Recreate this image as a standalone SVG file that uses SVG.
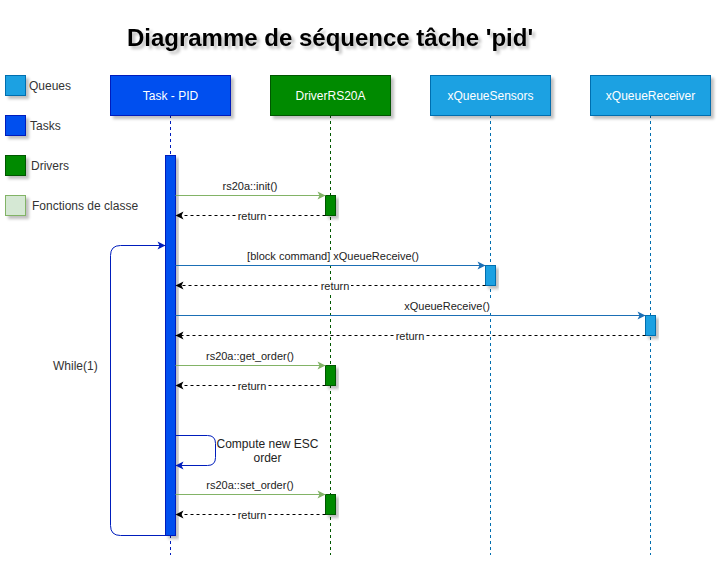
<svg xmlns="http://www.w3.org/2000/svg" width="727" height="572" viewBox="0 0 727 572">
<defs>
<filter id="sh" x="-20%" y="-20%" width="150%" height="150%">
<feGaussianBlur in="SourceAlpha" stdDeviation="1.5"/>
<feOffset dx="3" dy="3" result="b"/>
<feComponentTransfer><feFuncA type="linear" slope="0.25"/></feComponentTransfer>
<feMerge><feMergeNode/><feMergeNode in="SourceGraphic"/></feMerge>
</filter>
<marker id="aG" markerWidth="10" markerHeight="10" refX="9" refY="5" orient="auto" markerUnits="userSpaceOnUse"><path d="M1,1 L9,5 L1,9 L3,5 Z" fill="#82b366"/></marker>
<marker id="aB" markerWidth="10" markerHeight="10" refX="9" refY="5" orient="auto" markerUnits="userSpaceOnUse"><path d="M1,1 L9,5 L1,9 L3,5 Z" fill="#1b6fb5"/></marker>
<marker id="aD" markerWidth="10" markerHeight="10" refX="9" refY="5" orient="auto" markerUnits="userSpaceOnUse"><path d="M1,1 L9,5 L1,9 L3,5 Z" fill="#001dbc"/></marker>
<marker id="aK" markerWidth="10" markerHeight="10" refX="9" refY="5" orient="auto" markerUnits="userSpaceOnUse"><path d="M1,1 L9,5 L1,9 L3,5 Z" fill="#000"/></marker>
</defs>
<style>
text{font-family:"Liberation Sans",Arial,sans-serif;}
.t{font-size:24px;font-weight:bold;fill:#000;}
.h{font-size:12px;fill:#fff;text-anchor:middle;}
.l{font-size:12px;fill:#333;}
.m{font-size:11px;fill:#222;text-anchor:middle;}
.bg{fill:#fff;}
.life{fill:none;stroke-width:1;stroke-dasharray:3 3;}
.q{fill:#1ba1e2;stroke:#006eaf;}
.tk{fill:#0050ef;stroke:#001dbc;}
.dr{fill:#008a00;stroke:#005700;}
.fc{fill:#d5e8d4;stroke:#82b366;}
.call{fill:none;stroke-width:1;}
.ret{fill:none;stroke:#000;stroke-dasharray:3 3;marker-end:url(#aK);}
</style>
<rect width="727" height="572" fill="#fff"/>
<text class="t" x="330" y="46" text-anchor="middle" filter="url(#sh)">Diagramme de séquence tâche 'pid'</text>

<g id="legend">
<rect class="q" x="5.5" y="75.5" width="20" height="20" filter="url(#sh)"/>
<text class="l" x="29" y="90">Queues</text>
<rect class="tk" x="5.5" y="115.5" width="20" height="20" filter="url(#sh)"/>
<text class="l" x="30" y="130">Tasks</text>
<rect class="dr" x="5.5" y="155.5" width="20" height="20" filter="url(#sh)"/>
<text class="l" x="31" y="170">Drivers</text>
<rect class="fc" x="5.5" y="195.5" width="20" height="20" filter="url(#sh)"/>
<text class="l" x="32" y="210">Fonctions de classe</text>
</g>

<g id="task-pid">
<line class="life" x1="170.5" y1="115" x2="170.5" y2="555" stroke="#001dbc"/>
<rect class="tk" x="110.5" y="75.5" width="120" height="40" filter="url(#sh)"/>
<text class="h" x="170.5" y="100">Task - PID</text>
</g>
<g id="driver-rs20a">
<line class="life" x1="330.5" y1="115" x2="330.5" y2="555" stroke="#005700"/>
<rect class="dr" x="270.5" y="75.5" width="120" height="40" filter="url(#sh)"/>
<text class="h" x="330.5" y="100">DriverRS20A</text>
</g>
<g id="xqueue-sensors">
<line class="life" x1="490.5" y1="115" x2="490.5" y2="555" stroke="#006eaf"/>
<rect class="q" x="430.5" y="75.5" width="120" height="40" filter="url(#sh)"/>
<text class="h" x="490.5" y="100">xQueueSensors</text>
</g>
<g id="xqueue-receiver">
<line class="life" x1="650.5" y1="115" x2="650.5" y2="555" stroke="#006eaf"/>
<rect class="q" x="590.5" y="75.5" width="120" height="40" filter="url(#sh)"/>
<text class="h" x="650.5" y="100">xQueueReceiver</text>
</g>

<g id="activations">
<rect class="tk" x="165.5" y="155.5" width="10" height="380" filter="url(#sh)"/>
<rect class="dr" x="325.5" y="195.5" width="10" height="20" filter="url(#sh)"/>
<rect class="q" x="485.5" y="265.5" width="10" height="20" filter="url(#sh)"/>
<rect class="q" x="645.5" y="315.5" width="10" height="20" filter="url(#sh)"/>
<rect class="dr" x="325.5" y="365.5" width="10" height="20" filter="url(#sh)"/>
<rect class="dr" x="325.5" y="494.5" width="10" height="20" filter="url(#sh)"/>
</g>

<g id="connectors">
<!-- init -->
<line class="call" x1="175.5" y1="195.5" x2="325.5" y2="195.5" stroke="#82b366" marker-end="url(#aG)"/>
<rect class="bg" x="220" y="180" width="60" height="12"/>
<text class="m" x="250" y="190">rs20a::init()</text>
<line class="ret" x1="325.5" y1="215.5" x2="175.5" y2="215.5"/>
<rect class="bg" x="236" y="210" width="32" height="12"/>
<text class="m" x="252" y="220">return</text>

<!-- block command -->
<line class="call" x1="175.5" y1="265.5" x2="485.5" y2="265.5" stroke="#1b6fb5" marker-end="url(#aB)"/>
<rect class="bg" x="243" y="250" width="180" height="12"/>
<text class="m" x="333" y="260">[block command] xQueueReceive()</text>
<line class="ret" x1="485.5" y1="285.5" x2="175.5" y2="285.5"/>
<rect class="bg" x="319" y="280" width="32" height="12"/>
<text class="m" x="335" y="290">return</text>

<!-- xQueueReceive -->
<line class="call" x1="175.5" y1="315.5" x2="645.5" y2="315.5" stroke="#1b6fb5" marker-end="url(#aB)"/>
<rect class="bg" x="402" y="300" width="90" height="12"/>
<text class="m" x="447" y="310">xQueueReceive()</text>
<line class="ret" x1="645.5" y1="335.5" x2="175.5" y2="335.5"/>
<rect class="bg" x="394" y="330" width="32" height="12"/>
<text class="m" x="410" y="340">return</text>

<!-- get_order -->
<line class="call" x1="175.5" y1="365.5" x2="325.5" y2="365.5" stroke="#82b366" marker-end="url(#aG)"/>
<rect class="bg" x="205" y="350" width="92" height="12"/>
<text class="m" x="250" y="360">rs20a::get_order()</text>
<line class="ret" x1="325.5" y1="385.5" x2="175.5" y2="385.5"/>
<rect class="bg" x="236" y="380" width="32" height="12"/>
<text class="m" x="252" y="390">return</text>

<!-- self loop -->
<path class="call" d="M175.5,435.5 H207.5 Q215.5,435.5 215.5,443.5 V457.5 Q215.5,465.5 207.5,465.5 H175.5" stroke="#001dbc" marker-end="url(#aD)"/>
<text class="m" x="267.5" y="448" style="font-size:12px">Compute new ESC</text>
<text class="m" x="267.5" y="462" style="font-size:12px">order</text>

<!-- set_order -->
<line class="call" x1="175.5" y1="494.5" x2="325.5" y2="494.5" stroke="#82b366" marker-end="url(#aG)"/>
<rect class="bg" x="205" y="479" width="92" height="12"/>
<text class="m" x="250" y="489">rs20a::set_order()</text>
<line class="ret" x1="325.5" y1="514.5" x2="175.5" y2="514.5"/>
<rect class="bg" x="236" y="509" width="32" height="12"/>
<text class="m" x="252" y="519">return</text>

<!-- while loop -->
<path class="call" d="M165.5,535.5 H120.5 Q110.5,535.5 110.5,525.5 V255.5 Q110.5,245.5 120.5,245.5 H165.5" stroke="#001dbc" marker-end="url(#aD)"/>
<text class="l" x="53" y="370" fill="#333">While(1)</text>
</g>
</svg>
